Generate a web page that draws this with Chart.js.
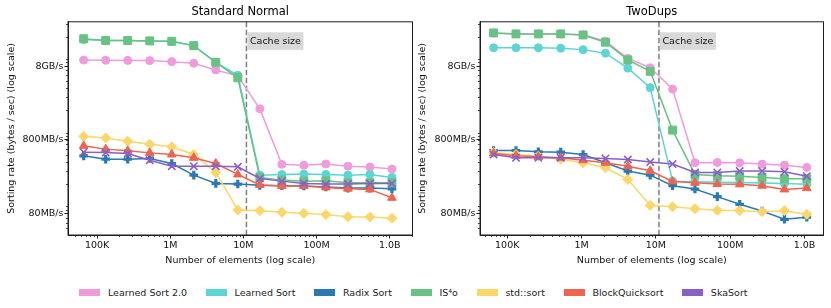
<html>
<head>
<meta charset="utf-8">
<script src="https://cdn.jsdelivr.net/npm/chart.js@4.4.3/dist/chart.umd.min.js"></script>
<style>
  body { margin: 0; background: #fff; font-family: 'DejaVu Sans', sans-serif; }
  #wrap { position: relative; width: 831px; height: 308px; }
  .panel { position: absolute; top: 0; height: 272px; }
  #legend { position: absolute; left: 0; top: 283px; width: 831px; height: 18px;
            display: flex; justify-content: center; align-items: center;
            font-size: 9.5px; color: #222; padding-right: 4px; box-sizing: border-box; }
  .item { display: flex; align-items: center; margin: 0 9.5px; }
  .sw { display: inline-block; width: 21px; height: 7px; margin-right: 7.5px; }
</style>
</head>
<body>
<div id="wrap">
  <div class="panel" style="left:0;width:420px"><canvas id="left"></canvas></div>
  <div class="panel" style="left:412px;width:419px"><canvas id="right"></canvas></div>
  <div id="legend"></div>
</div>
<script>
    // input sizes (2^16 .. 2^30)
    const sizes = [65536, 131072, 262144, 524288, 1048576, 2097152, 4194304, 8388608,
                   16777216, 33554432, 67108864, 134217728, 268435456, 536870912, 1073741824];

    const algos = ['Learned Sort 2.0', 'Learned Sort', 'Radix Sort', 'IS\u2074o', 'std::sort', 'BlockQuicksort', 'SkaSort'];
    const colors = ['#f09bdc', '#5dd5d5', '#2979b2', '#68c284', '#fcd668', '#ee644e', '#8960c8'];
    const markers = ['circle', 'circle', 'cross', 'rect', 'rectRot', 'triangle', 'crossRot'];
    const markerSize = [4, 4, 4.3, 5.6, 5, 5, 5.2];

    // Standard Normal, bytes / sec
    const normal_ls2   = [9.65e9, 9.6e9, 9.55e9, 9.5e9, 9.2e9, 8.75e9, 7.1e9, 5.9e9, 2.1e9, 3.7e8, 3.6e8, 3.75e8, 3.5e8, 3.4e8, 3.2e8];
    const normal_ls    = [18.4e9, 17.8e9, 17.8e9, 17.6e9, 17.3e9, 15.2e9, 9.0e9, 6.0e9, 2.64e8, 2.7e8, 2.73e8, 2.7e8, 2.64e8, 2.7e8, 2.46e8];
    const normal_radix = [4.83e8, 4.35e8, 4.35e8, 4.45e8, 3.8e8, 2.64e8, 2.04e8, 2.0e8, 1.92e8, 1.9e8, 1.88e8, 1.82e8, 1.76e8, 1.76e8, 1.72e8];
    const normal_is4o  = [18.8e9, 17.8e9, 17.8e9, 17.6e9, 17.4e9, 15.2e9, 9.0e9, 5.55e9, 2.46e8, 2.26e8, 2.19e8, 2.21e8, 2.08e8, 2.08e8, 2.08e8];
    const normal_std   = [8.92e8, 8.47e8, 7.63e8, 6.95e8, 6.4e8, 5.04e8, 2.87e8, 8.88e7, 8.7e7, 8.26e7, 8.0e7, 7.68e7, 7.21e7, 7.14e7, 6.84e7];
    const normal_bqs   = [6.6e8, 5.96e8, 5.65e8, 5.3e8, 5.04e8, 4.54e8, 3.8e8, 2.7e8, 1.94e8, 1.88e8, 1.88e8, 1.8e8, 1.73e8, 1.69e8, 1.3e8];
    const normal_ska   = [5.42e8, 5.36e8, 5.2e8, 4.22e8, 3.5e8, 3.5e8, 3.5e8, 3.43e8, 2.38e8, 2.19e8, 2.04e8, 2.0e8, 2.0e8, 2.04e8, 2.04e8];

    // TwoDups, bytes / sec
    const dups_ls2   = [22.5e9, 21.9e9, 21.9e9, 21.9e9, 21.3e9, 17.4e9, 10.2e9, 7.6e9, 3.9e9, 3.89e8, 3.93e8, 3.89e8, 3.73e8, 3.61e8, 3.36e8];
    const dups_ls    = [14.2e9, 14.2e9, 14.2e9, 14.0e9, 13.4e9, 12.0e9, 7.5e9, 4.07e9, 2.19e8, 2.15e8, 2.11e8, 2.09e8, 2.06e8, 2.04e8, 1.98e8];
    const dups_radix = [5.71e8, 5.71e8, 5.48e8, 5.42e8, 5.03e8, 3.89e8, 3.0e8, 2.64e8, 1.9e8, 1.71e8, 1.35e8, 1.06e8, 8.6e7, 6.64e7, 7.07e7];
    const dups_is4o  = [22.6e9, 21.9e9, 21.9e9, 21.9e9, 21.2e9, 16.9e9, 9.7e9, 6.8e9, 1.08e9, 2.7e8, 2.59e8, 2.56e8, 2.46e8, 2.36e8, 2.36e8];
    const dups_std   = [5.36e8, 5.03e8, 4.78e8, 4.35e8, 3.89e8, 3.32e8, 2.31e8, 1.026e8, 9.84e7, 9.25e7, 8.78e7, 8.7e7, 8.43e7, 8.7e7, 7.76e7];
    const dups_bqs   = [5.2e8, 4.83e8, 4.68e8, 4.54e8, 4.22e8, 3.89e8, 3.5e8, 3.03e8, 2.17e8, 2.08e8, 2.0e8, 1.98e8, 1.9e8, 1.69e8, 1.76e8];
    const dups_ska   = [5.03e8, 4.54e8, 4.54e8, 4.54e8, 4.54e8, 4.45e8, 4.31e8, 3.97e8, 3.73e8, 2.87e8, 2.87e8, 3.0e8, 3.0e8, 2.93e8, 2.56e8];

    const yTicks = [8e7, 8e8, 8e9];
    const yTickLabels = ['80MB/s', '800MB/s', '8GB/s'];
    const xTicks = [1e5, 1e6, 1e7, 1e8, 1e9];
    const xTickLabels = ['100K', '1M', '10M', '100M', '1.0B'];
    const cacheSize = 1.1e7;

    const FONT = 'DejaVu Sans';
    const INK = '#1f1f1f';

    // frame, minor ticks, cache line and its label
    const decorations = {
        id: 'decorations',
        beforeDatasetsDraw(chart) {
            const {ctx, chartArea: a, scales: {x}} = chart;
            const cx = x.getPixelForValue(cacheSize);
            ctx.save();
            ctx.strokeStyle = '#7f7f7f';
            ctx.lineWidth = 1.5;
            ctx.setLineDash([5.5, 2.5]);
            ctx.beginPath();
            ctx.moveTo(cx, a.top);
            ctx.lineTo(cx, a.bottom);
            ctx.stroke();
            ctx.restore();
        },
        afterDraw(chart) {
            const {ctx, chartArea: a, scales: {x, y}} = chart;
            ctx.save();
            ctx.strokeStyle = INK;
            ctx.lineWidth = 1;
            ctx.strokeRect(a.left, a.top, a.right - a.left, a.bottom - a.top);
            ctx.lineWidth = 0.8;
            ctx.beginPath();
            for (let e = 4; e <= 10; e++) {
                for (let k = 1; k < 10; k++) {
                    const v = k * Math.pow(10, e);
                    if (v > x.min && v < x.max && !xTicks.includes(v)) {
                        const px = Math.round(x.getPixelForValue(v)) + 0.5;
                        ctx.moveTo(px, a.bottom);
                        ctx.lineTo(px, a.bottom + 2);
                    }
                    if (v > y.min && v < y.max) {
                        const py = Math.round(y.getPixelForValue(v)) + 0.5;
                        ctx.moveTo(a.left, py);
                        ctx.lineTo(a.left - 2, py);
                    }
                }
            }
            ctx.stroke();

            const cx = x.getPixelForValue(cacheSize);
            ctx.font = '9.5px "' + FONT + '"';
            const tw = ctx.measureText('Cache size').width;
            ctx.fillStyle = '#d9d9d9';
            ctx.fillRect(cx + 1, a.top + 10.5, tw + 5, 17.5);
            ctx.fillStyle = '#111';
            ctx.textBaseline = 'middle';
            ctx.fillText('Cache size', cx + 3.5, a.top + 19.5);
            ctx.restore();
        }
    };

    function makeChart(id, title, series, xMin, xMax, padRight, yTitlePad) {
        const datasets = series.map((data, i) => ({
            label: algos[i],
            data: data,
            borderColor: colors[i],
            backgroundColor: colors[i],
            pointBackgroundColor: colors[i],
            pointBorderColor: colors[i],
            pointStyle: markers[i],
            pointRadius: markerSize[i],
            pointBorderWidth: (markers[i] === 'cross' ? 3.2 : (markers[i] === 'crossRot' ? 1.6 : 1)),
            borderWidth: 1.5,
            tension: 0,
            order: series.length - i
        }));

        new Chart(document.getElementById(id), {
            type: 'line',
            data: {labels: sizes, datasets: datasets},
            options: {
                responsive: true,
                maintainAspectRatio: false,
                animation: false,
                layout: {padding: {left: 0, right: padRight, top: 0, bottom: 0}},
                plugins: {
                    legend: {display: false},
                    tooltip: {enabled: false},
                    title: {
                        display: true,
                        text: title,
                        fullSize: false,
                        color: '#000',
                        font: {family: FONT, size: 11.5, weight: 'normal'},
                        padding: {top: 5, bottom: 3}
                    }
                },
                scales: {
                    x: {
                        type: 'logarithmic',
                        min: xMin,
                        max: xMax,
                        afterFit(s) { s.height = 37; },
                        afterBuildTicks(s) { s.ticks = xTicks.map(v => ({value: v})); },
                        ticks: {
                            autoSkip: false, maxRotation: 0, padding: 1.5, color: '#111',
                            font: {family: FONT, size: 9.5},
                            callback: (v, i) => xTickLabels[i]
                        },
                        grid: {drawOnChartArea: false, drawTicks: true, tickLength: 3.5, color: INK},
                        border: {display: true, color: INK},
                        title: {
                            display: true, text: 'Number of elements (log scale)', color: '#111',
                            font: {family: FONT, size: 9.5}, padding: {top: 0, bottom: 6}
                        }
                    },
                    y: {
                        type: 'logarithmic',
                        min: 4.06e7,
                        max: 3.2e10,
                        afterFit(s) { s.width = 68; },
                        afterBuildTicks(s) { s.ticks = yTicks.map(v => ({value: v})); },
                        ticks: {
                            autoSkip: false, padding: 1, color: '#111',
                            font: {family: FONT, size: 9.5},
                            callback: (v, i) => yTickLabels[i]
                        },
                        grid: {drawOnChartArea: false, drawTicks: true, tickLength: 3.5, color: INK},
                        border: {display: true, color: INK},
                        title: {
                            display: true, text: 'Sorting rate (bytes / sec) (log scale)', color: '#111',
                            font: {family: FONT, size: 9.5}, padding: {top: yTitlePad, bottom: 0}
                        }
                    }
                }
            },
            plugins: [decorations]
        });
    }

    makeChart('left', 'Standard Normal',
        [normal_ls2, normal_ls, normal_radix, normal_is4o, normal_std, normal_bqs, normal_ska],
        4.0e4, 2.05e9, 2, 6);
    makeChart('right', 'TwoDups',
        [dups_ls2, dups_ls, dups_radix, dups_is4o, dups_std, dups_bqs, dups_ska],
        4.3e4, 1.8e9, 6, 5);

    // shared legend
    const legend = document.getElementById('legend');
    algos.forEach((name, i) => {
        const item = document.createElement('div');
        item.className = 'item';
        item.innerHTML = '<span class="sw" style="background:' + colors[i] + '"></span><span>' + name + '</span>';
        legend.appendChild(item);
    });
</script>
</body>
</html>
